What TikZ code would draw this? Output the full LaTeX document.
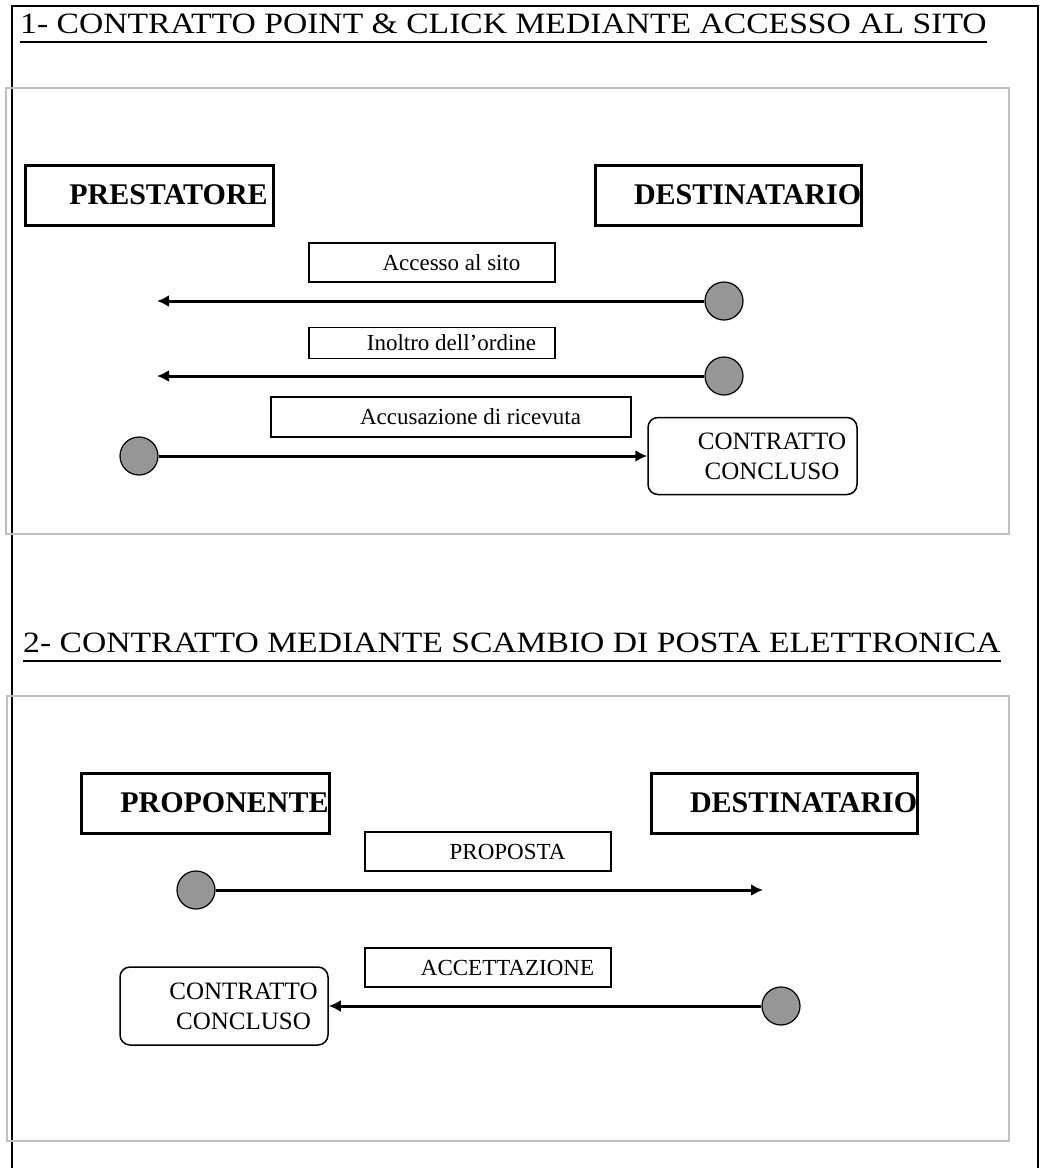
\documentclass[tikz,border=0pt]{standalone}
\usepackage{fontspec}
\setmainfont{Liberation Serif}
\newfontfamily\headfont{Liberation Serif}[FakeStretch=1.14]
\usetikzlibrary{arrows.meta,positioning}
\definecolor{framegray}{RGB}{192,192,192}
\definecolor{dotgray}{RGB}{150,150,150}
\newcommand{\indt}{\hspace*{39pt}}

\begin{document}
\begin{tikzpicture}[
        x=1pt, y=-1pt,
        heading/.style={font=\headfont\fontsize{29.5}{35}\selectfont, inner sep=0pt, anchor=base west},
        grayframe/.style={draw=framegray, line width=2pt},
        party/.style={draw, line width=3pt, inner sep=0pt, minimum width=#1, minimum height=60pt, font=\fontsize{30}{35}\selectfont\bfseries},
        msg/.style={draw, line width=1.2pt, inner sep=0pt, minimum width=#1, minimum height=39pt, font=\fontsize{23}{27}\selectfont},
        endbox/.style={draw, rounded corners=10pt, line width=1.5pt, inner sep=0pt, minimum width=209pt, minimum height=77pt, align=center, font=\fontsize{25}{30}\selectfont},
        startdot/.style={circle, draw, fill=dotgray, line width=1.2pt, minimum size=38pt, inner sep=0pt},
        arrow/.style={-{Latex[length=12pt,width=12pt]}, line width=3pt}
    ]
        \useasboundingbox (0,0) rectangle (1042,1168);
        \draw[line width=2.5pt] (12,1168) -- (12,6) -- (1038,6) -- (1038,1168);

        \node[heading] (head1) at (20,33) {1- CONTRATTO POINT \& CLICK MEDIANTE ACCESSO AL SITO};
        \draw[line width=1.5pt] ([yshift=-9pt]head1.base west) -- ([yshift=-9pt]head1.base east);
        \draw[grayframe] (6,88) rectangle (1009,534);

        \node[party=248pt] (prest) at (149,195) {\indt PRESTATORE};
        \node[party=266pt, right=319pt of prest] (dest1) {\indt DESTINATARIO};
        \node[msg=246pt] (acc) at (432,262.5) {\indt Accesso al sito};
        \node[msg=246pt, minimum height=31pt] (ord) at (432,343) {\indt Inoltro dell'ordine};
        \node[msg=360pt, minimum height=40pt] (ric) at (451,417) {\indt Accusazione di ricevuta};
        \node[endbox] (concl1) at (752.5,456) {\indt CONTRATTO\\\indt CONCLUSO};

        \node[startdot] (dacc) at (724,301) {};
        \node[startdot] (dord) at (724,376) {};
        \node[startdot] (dric) at (139,456) {};
        \coordinate (eacc) at (157,301);
        \coordinate (eord) at (157,376);

        \draw[arrow] (dacc) -- (eacc);
        \draw[arrow] (dord) -- (eord);
        \draw[arrow] (dric) -- (concl1);

        \node[heading] (head2) at (23,652) {2- CONTRATTO MEDIANTE SCAMBIO DI POSTA ELETTRONICA};
        \draw[line width=1.5pt] ([yshift=-9pt]head2.base west) -- ([yshift=-9pt]head2.base east);
        \draw[grayframe] (7,696) rectangle (1009,1141);

        \node[party=248pt] (prop) at (205,803) {\indt PROPONENTE};
        \node[party=266pt, right=319pt of prop] (dest2) {\indt DESTINATARIO};
        \node[msg=246pt] (pst) at (488,851.5) {\indt PROPOSTA};
        \node[msg=246pt] (acct) at (488,967.5) {\indt ACCETTAZIONE};
        \node[endbox, minimum width=208pt, minimum height=78pt] (concl2) at (224,1006) {\indt CONTRATTO\\\indt CONCLUSO};

        \node[startdot] (dpst) at (196,890) {};
        \node[startdot] (dacct) at (781,1006) {};
        \coordinate (epst) at (763,890);

        \draw[arrow] (dpst) -- (epst);
        \draw[arrow] (dacct) -- (concl2);
    \end{tikzpicture}
\end{document}
